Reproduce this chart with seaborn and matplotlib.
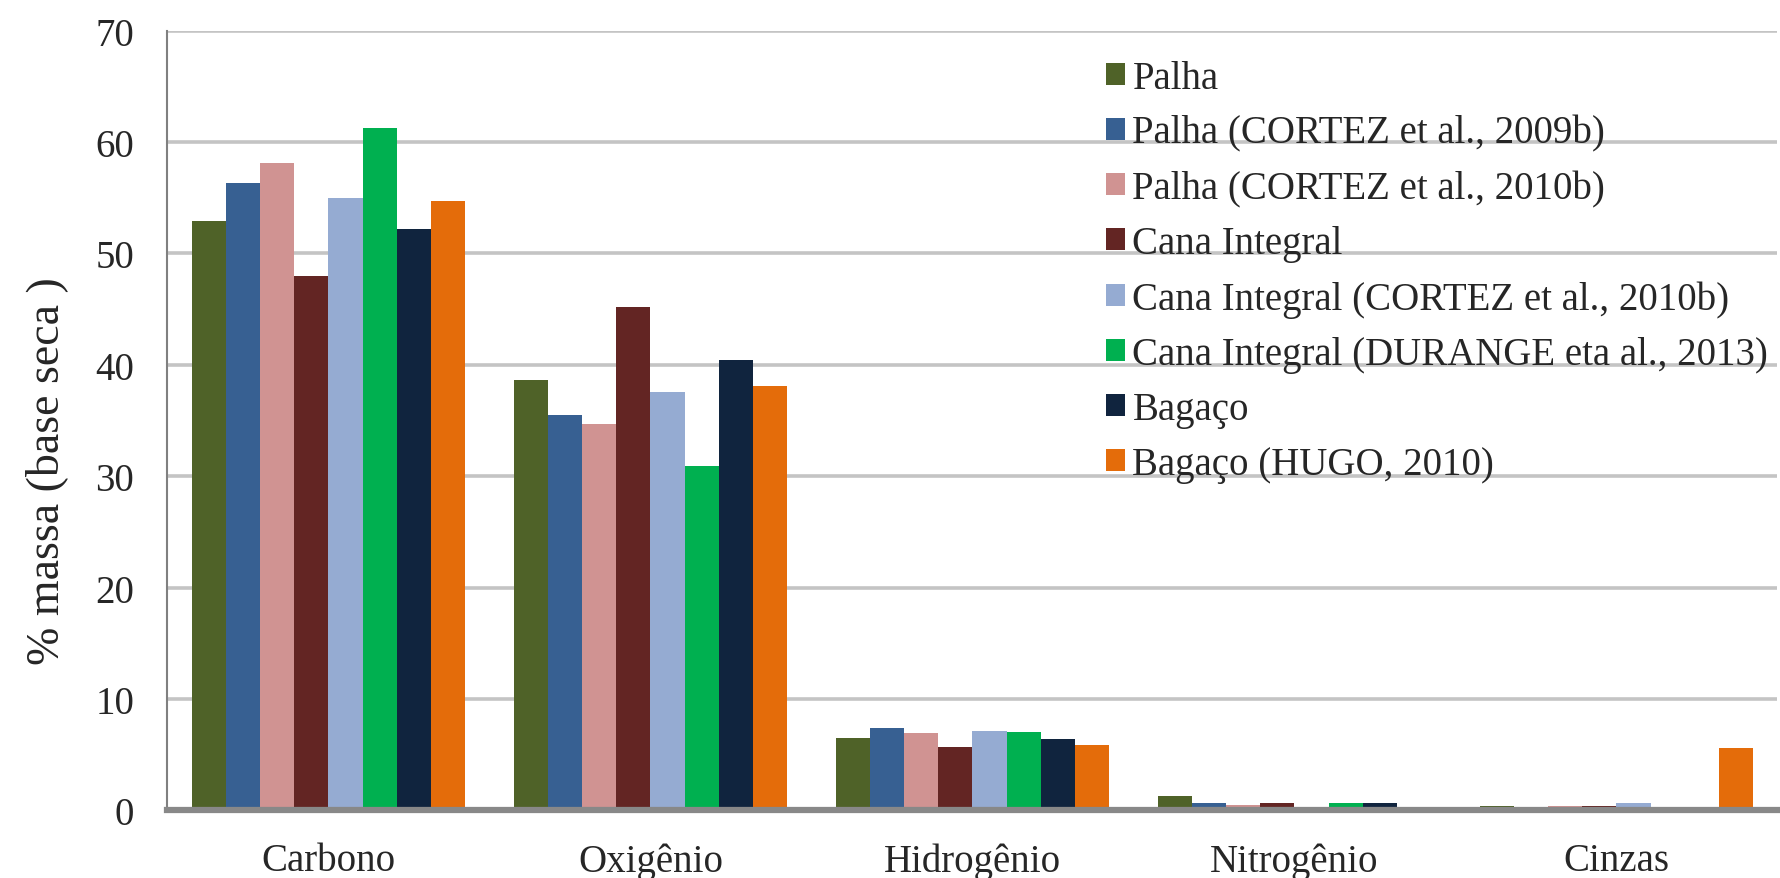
import pandas as pd
import matplotlib
matplotlib.use('Agg')
import matplotlib.pyplot as plt
import seaborn as sns
from matplotlib.patches import Patch
from matplotlib.ticker import FixedLocator

# data
elementos = ['Carbono', 'Oxigênio', 'Hidrogênio', 'Nitrogênio', 'Cinzas']
series = ['Palha',
          'Palha (CORTEZ et al., 2009b)',
          'Palha (CORTEZ et al., 2010b)',
          'Cana Integral',
          'Cana Integral (CORTEZ et al., 2010b)',
          'Cana Integral (DURANGE eta al., 2013)',
          'Bagaço',
          'Bagaço (HUGO, 2010)']
palha = [52.9, 38.6, 6.5, 1.3, 0.4]
palha_cortez_2009 = [56.3, 35.5, 7.4, 0.7, 0.0]
palha_cortez_2010 = [58.1, 34.7, 6.9, 0.45, 0.4]
cana = [48.0, 45.2, 5.7, 0.65, 0.4]
cana_cortez_2010 = [55.0, 37.6, 7.1, 0.0, 0.7]
cana_durange_2013 = [61.3, 30.9, 7.0, 0.7, 0.0]
bagaco = [52.2, 40.4, 6.4, 0.7, 0.0]
bagaco_hugo_2010 = [54.7, 38.1, 5.85, 0.0, 5.6]

cores = ['#4F6228', '#376092', '#D09392', '#632523',
         '#95ABD2', '#00B050', '#10243E', '#E46C0A']

valores = [palha, palha_cortez_2009, palha_cortez_2010, cana,
           cana_cortez_2010, cana_durange_2013, bagaco, bagaco_hugo_2010]

rows = []
for nome, vals in zip(series, valores):
    for el, v in zip(elementos, vals):
        rows.append({'Elemento': el, 'Serie': nome, 'Valor': v})
df = pd.DataFrame(rows)

sns.set_style('white')
plt.rcParams['font.family'] = ['Liberation Serif', 'DejaVu Serif']

fig = plt.figure(figsize=(17.81, 8.79), dpi=100)
ax = fig.add_axes([0.094, 0.077, 0.904, 0.887])

sns.barplot(data=df, x='Elemento', y='Valor', hue='Serie', hue_order=series,
            order=elementos, palette=cores, width=0.85, saturation=1,
            linewidth=0, ax=ax, legend=False)

ax.set_xlim(-0.5, 4.5)
ax.set_ylim(0, 70)
ax.set_yticks(range(0, 71, 10))
ax.yaxis.grid(True, color='#C4C4C4', linewidth=2.6)
ax.set_axisbelow(True)

for s in ['top', 'right']:
    ax.spines[s].set_visible(False)
ax.spines['left'].set_color('#808080')
ax.spines['left'].set_linewidth(1.5)
ax.spines['bottom'].set_color('#888888')
ax.spines['bottom'].set_linewidth(4.5)

ax.tick_params(axis='y', length=14, width=2.6, color='#C4C4C4', labelsize=28, pad=10)
ax.tick_params(axis='x', which='major', length=0, labelsize=28, pad=23)
ax.xaxis.set_minor_locator(FixedLocator([-0.5, 0.5, 1.5, 2.5, 3.5, 4.5]))
ax.tick_params(axis='x', which='minor', length=10, width=1.5, color='#888888', direction='out')

ax.set_xlabel('')
ax.set_ylabel('% massa (base seca )', fontsize=33)
ax.yaxis.set_label_coords(-0.062, 0.436)

handles = [Patch(facecolor=c, edgecolor='none') for c in cores]
fig.legend(handles, series, loc='upper left', bbox_to_anchor=(0.621, 0.931),
           frameon=False, fontsize=28, handlelength=0.48, handleheight=0.48,
           handletextpad=0.2, labelspacing=0.465, borderpad=0, borderaxespad=0)

fig.savefig('out.png', dpi=100)
